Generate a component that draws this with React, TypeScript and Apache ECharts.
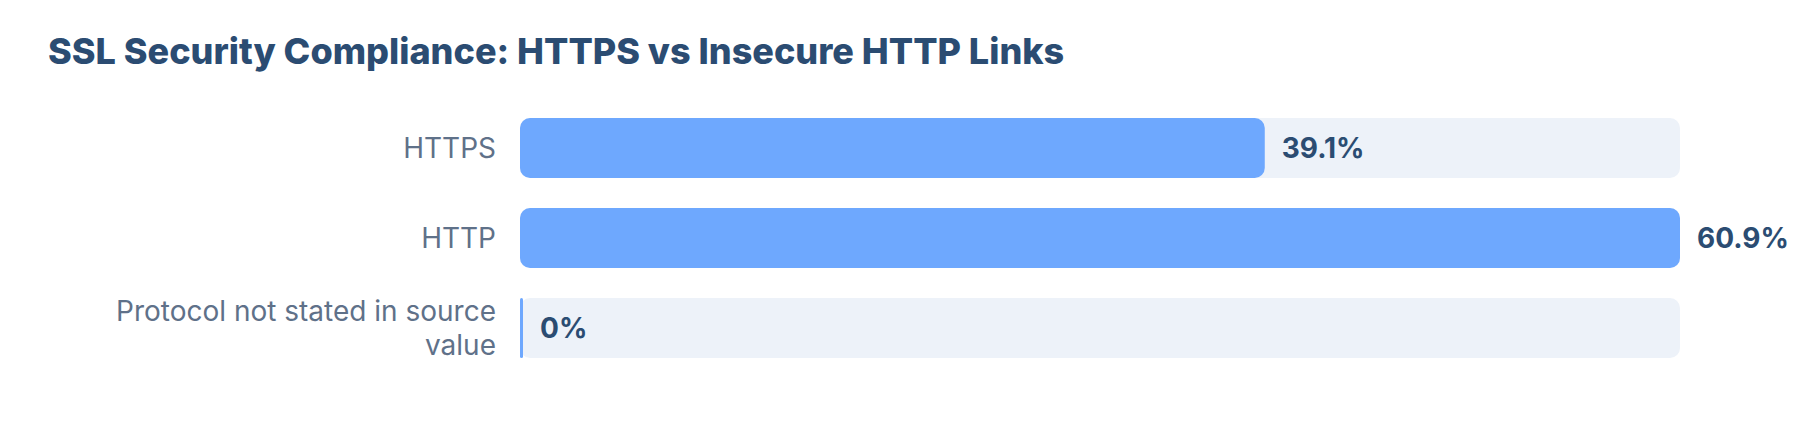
import React, { useEffect, useRef } from "react";
import * as echarts from "echarts";

const categories = ["HTTPS", "HTTP", "Protocol not stated in source value"];
const shares = [39.1, 60.9, 0];
const titleText = "SSL Security Compliance: HTTPS vs Insecure HTTP Links";

function wrapWords(text: string, maxChars: number): string {
  const words = text.split(" ");
  const lines: string[] = [];
  let cur = "";
  for (const w of words) {
    if (cur && (cur + " " + w).length > maxChars) {
      lines.push(cur);
      cur = w;
    } else {
      cur = cur ? cur + " " + w : w;
    }
  }
  if (cur) lines.push(cur);
  return lines.join("\n");
}

export default function App() {
  const ref = useRef<HTMLDivElement>(null);
  useEffect(() => {
    if (!ref.current) return;
    const chart = echarts.init(ref.current, null, { renderer: "svg" });
    chart.setOption({
      animation: false,
      backgroundColor: "#ffffff",
      title: {
        text: titleText,
        left: 35,
        top: 20,
        textStyle: {
          fontFamily: "Inter",
          fontWeight: 800,
          fontSize: 36,
          color: "#2b4c72",
        },
      },
      grid: { left: 512, right: 112, top: 95, bottom: 47, containLabel: false },
      xAxis: {
        type: "value",
        min: 0,
        max: Math.max(...shares),
        show: false,
        splitLine: { show: false },
      },
      yAxis: {
        type: "category",
        inverse: true,
        data: categories,
        axisLine: { show: false },
        axisTick: { show: false },
        axisLabel: {
          margin: 24,
          color: "#5f7189",
          fontFamily: "Inter",
          fontSize: 28,
          lineHeight: 34,
          align: "right",
          formatter: (v: string) => wrapWords(v, 30),
        },
      },
      series: [
        {
          type: "bar",
          data: shares,
          barWidth: 60,
          barMinHeight: 3,
          showBackground: true,
          backgroundStyle: { color: "#edf2f9", borderRadius: 10 },
          itemStyle: { color: "#6ea8fe", borderRadius: 10 },
          label: {
            show: true,
            position: "right",
            distance: 17,
            formatter: "{c}%",
            fontFamily: "Inter",
            fontWeight: 700,
            fontSize: 28,
            color: "#2b4c72",
          },
        },
      ],
    });
    return () => chart.dispose();
  }, []);
  return <div ref={ref} style={{ width: 1784, height: 412 }} />;
}
